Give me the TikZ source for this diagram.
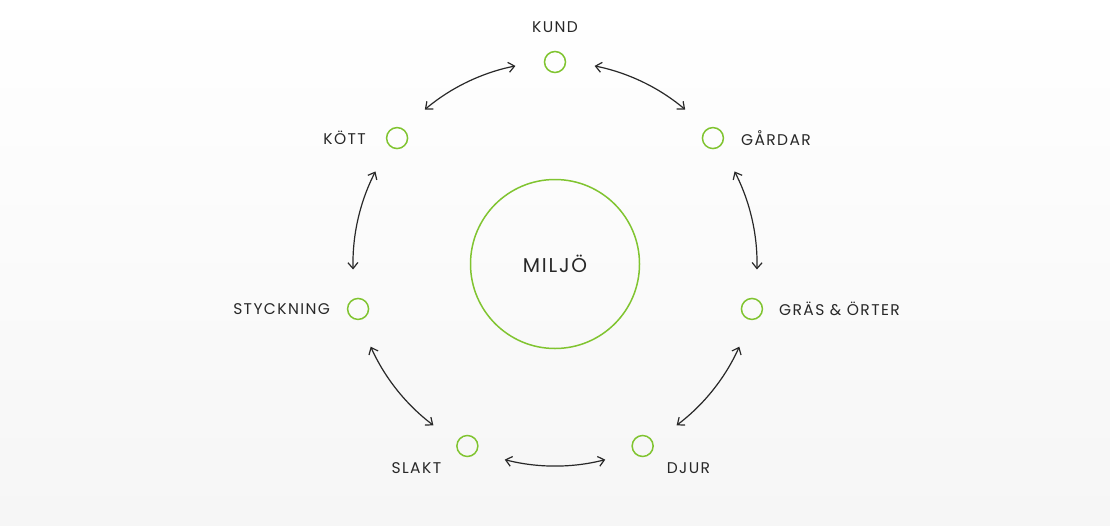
\documentclass[tikz,border=0pt]{standalone}
\usepackage{fontspec}
\setmainfont{Poppins}[LetterSpace=9]
\usetikzlibrary{arrows.meta}
\definecolor{leaf}{RGB}{128,196,48}
\definecolor{ink}{RGB}{40,40,40}
\tikzset{
  stage/.style={circle,draw=leaf,line width=1.5pt,minimum size=21pt,inner sep=0pt},
  core/.style={circle,draw=leaf,line width=1.5pt,minimum size=169pt,inner sep=0pt,
    font=\fontsize{20}{22}\selectfont,text=ink},
  lbl/.style={font=\fontsize{15.5}{17}\selectfont,text=ink,inner sep=0pt},
  link/.style={draw=ink,line width=1.2pt,{Straight Barb[length=6pt,width=10pt]}-{Straight Barb[length=6pt,width=10pt]}}
}
\begin{document}
\begin{tikzpicture}[x=1pt,y=1pt]
\shade[top color=white,bottom color={rgb,255:red,246;green,246;blue,246}] (0,0) rectangle (1110,-525);
\useasboundingbox (0,0) rectangle (1110,-525);
\begin{scope}[shift={(555,-264)}]
\node[core] (miljo) at (0,0) {MILJÖ};
% seven stages on a circle of radius 202
\node[stage] (kund)  at (90:202) {};
\node[stage] (gard)  at (38.571:202) {};
\node[stage] (gras)  at (-12.857:202) {};
\node[stage] (djur)  at (-64.286:202) {};
\node[stage] (slakt) at (-115.714:202) {};
\node[stage] (styck) at (-167.143:202) {};
\node[stage] (kott)  at (141.429:202) {};
% arc ends
\coordinate (a1) at (78.7:202);
\coordinate (a2) at (27.27:202);
\coordinate (a3) at (-24.157:202);
\coordinate (a4) at (-75.586:202);
\coordinate (a5) at (-127.014:202);
\coordinate (a6) at (-178.443:202);
\coordinate (a7) at (130.129:202);
\draw[link] (a1) arc[start angle=78.7,end angle=49.871,radius=202];
\draw[link] (a2) arc[start angle=27.27,end angle=-1.557,radius=202];
\draw[link] (a3) arc[start angle=-24.157,end angle=-52.986,radius=202];
\draw[link] (a4) arc[start angle=-75.586,end angle=-104.414,radius=202];
\draw[link] (a5) arc[start angle=-127.014,end angle=-155.843,radius=202];
\draw[link] (a6) arc[start angle=-178.443,end angle=-207.271,radius=202];
\draw[link] (a7) arc[start angle=130.129,end angle=101.3,radius=202];
\end{scope}
\node[lbl,anchor=center] (tkund) at ([yshift=35pt]kund.center) {KUND};
\node[lbl,anchor=west] (tgard) at ([xshift=28pt]gard.center) {GÅRDAR};
\node[lbl,anchor=west] (tgras) at ([xshift=27pt]gras.center) {GRÄS \& ÖRTER};
\node[lbl,anchor=west] (tdjur) at ([xshift=24pt,yshift=-22pt]djur.center) {DJUR};
\node[lbl,anchor=east] (tslakt) at ([xshift=-26pt,yshift=-22pt]slakt.center) {SLAKT};
\node[lbl,anchor=east] (tstyck) at ([xshift=-28pt]styck.center) {STYCKNING};
\node[lbl,anchor=east] (tkott) at ([xshift=-31pt]kott.center) {KÖTT};
\end{tikzpicture}
\end{document}
